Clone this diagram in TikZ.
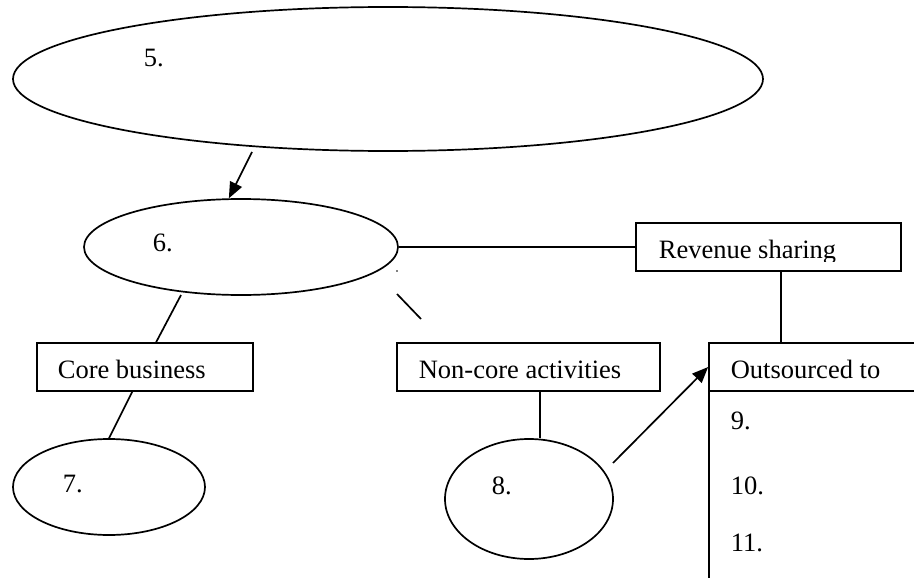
\documentclass[tikz,border=0pt]{standalone}
\usepackage{fontspec}
\setmainfont{Liberation Serif}
\usetikzlibrary{shapes.geometric,arrows.meta}
\tikzset{
  oval/.style={draw, ellipse, inner sep=0pt},
  box/.style={draw, rectangle, inner sep=0pt, minimum height=48pt},
  lbl/.style={anchor=base west, inner sep=0pt},
  arr/.style={-{Triangle[length=16pt,width=13pt]}}
}
\begin{document}
\begin{tikzpicture}[x=1pt,y=-1pt,line width=1.7pt,font=\fontsize{26.5}{30}\selectfont]
\useasboundingbox (0,0) rectangle (914,578);
% ellipses
\node[oval, minimum width=750pt, minimum height=144pt] (e5) at (388,79) {};
\node[oval, minimum width=314pt, minimum height=96pt] (e6) at (241,247) {};
\node[oval, minimum width=192pt, minimum height=96pt] (e7) at (109,487) {};
\node[oval, minimum width=168pt, minimum height=120pt] (e8) at (529,499) {};
% boxes
\node[box, minimum width=265pt] (rev) at (768.5,247) {};
\node[box, minimum width=216pt] (core) at (145,367) {};
\node[box, minimum width=263pt] (noncore) at (528.5,367) {};
\node[rectangle, inner sep=0pt, minimum width=205pt, minimum height=48pt] (outhead) at (811.5,367) {};
\draw (914,343) -- (709,343) -- (709,578);
\draw (709,391) -- (914,391);
% texts
\node[lbl] (t5) at (143,67) {5.};
\node[lbl] (t6) at (152,251) {6.};
\begin{scope}
\clip (636,223) rectangle (901,261);
\node[lbl] (trev) at (658,258) {Revenue sharing};
\end{scope}
\node[lbl] (tcore) at (57,378) {Core business};
\node[lbl] (tnon) at (418,378) {Non-core activities};
\node[lbl] (tout) at (730,378) {Outsourced to};
\node[lbl] (t9) at (730,429) {9.};
\node[lbl] (t10) at (730,494) {10.};
\node[lbl] (t11) at (730,551) {11.};
\node[lbl] (t7) at (62,492) {7.};
\node[lbl] (t8) at (491,494) {8.};
% connector free ends
\coordinate (a1) at (252,152);
\coordinate (a2) at (613,463);
\coordinate (c1) at (181,295);
\coordinate (d1) at (397,294);
\coordinate (d2) at (421,319);
\coordinate (d0) at (397,271);
% connectors
\draw[arr] (a1) -- (e6.104);
\draw (e6.east) -- (rev.west);
\draw ([xshift=146pt]rev.south west) -- ([xshift=73pt]outhead.north west);
\draw (c1) -- ([xshift=120pt]core.north west);
\draw ([xshift=96pt]core.south west) -- (e7.north);
\draw ([xshift=144pt]noncore.south west) coordinate (n1) -- (n1 |- e8.north);
\draw[arr] (a2) -- (outhead.west);
\draw (d1) -- (d2);
\fill (d0) circle (0.8pt);
\end{tikzpicture}
\end{document}
